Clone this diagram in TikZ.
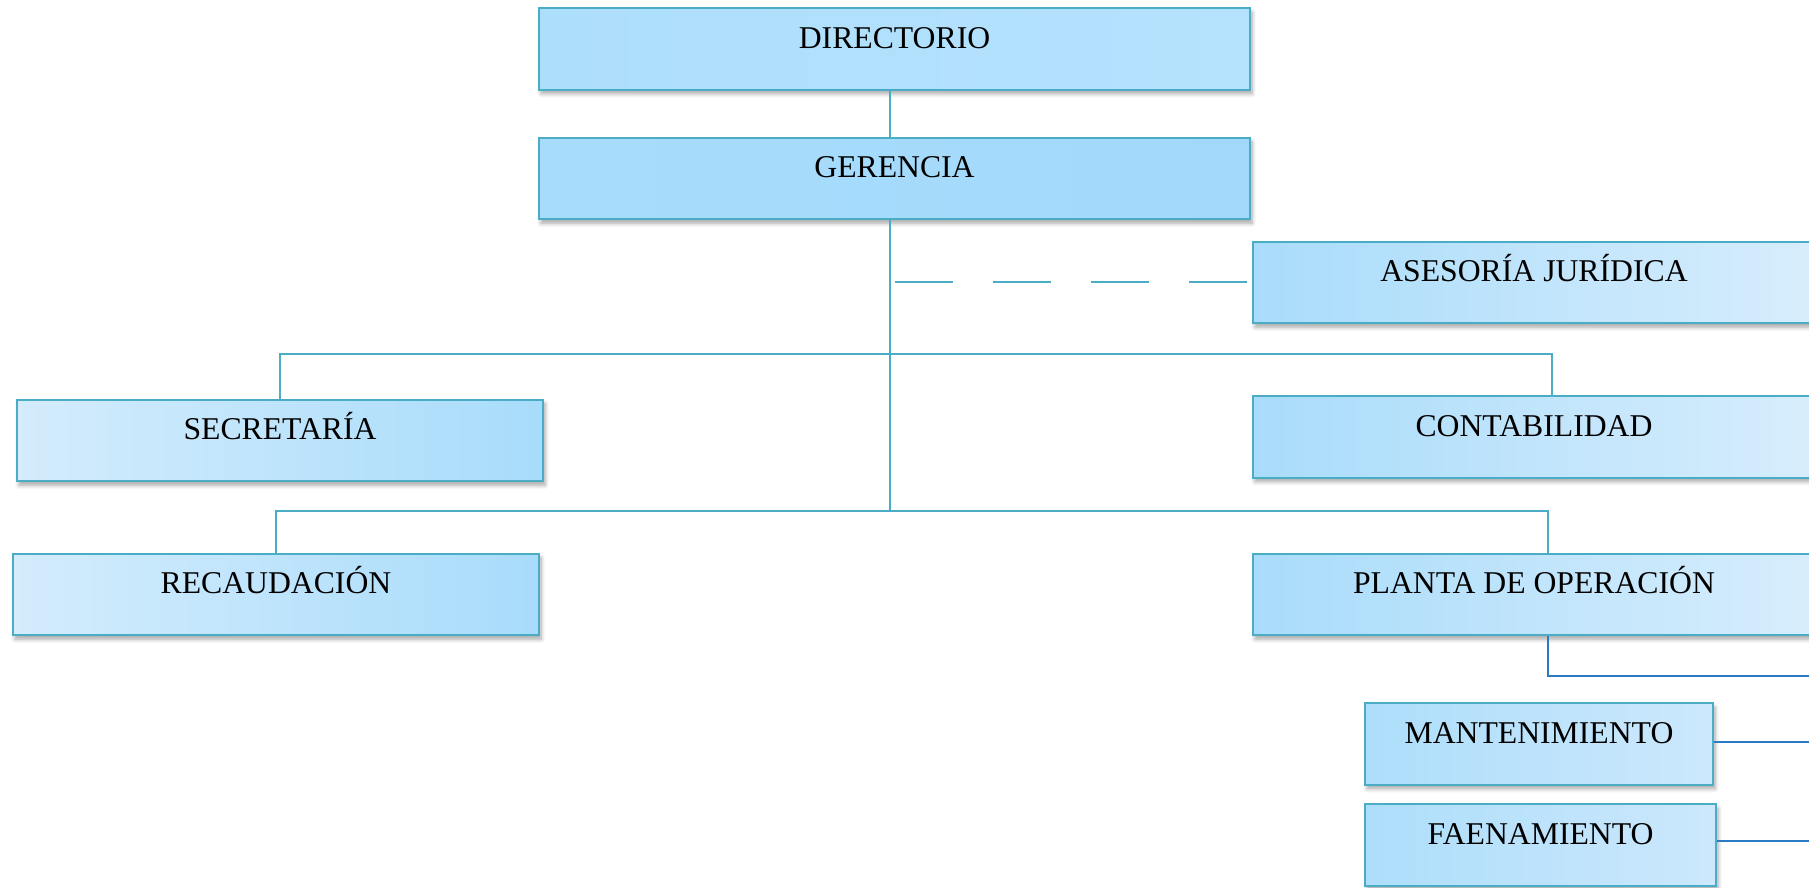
\documentclass[tikz,border=0pt]{standalone}
\usepackage{fontspec}
\setmainfont{Liberation Serif}
\usetikzlibrary{shadows,shadows.blur}
\definecolor{bordc}{HTML}{4BACC6}
\definecolor{connc}{HTML}{4BACC6}
\definecolor{connb}{HTML}{2A7BC4}
\definecolor{dirL}{HTML}{ADDEFC}
\definecolor{dirR}{HTML}{B5E2FD}
\definecolor{gerL}{HTML}{A8DCFC}
\definecolor{gerR}{HTML}{A2D9FB}
\definecolor{rDark}{HTML}{A9DCFB}
\definecolor{rLight}{HTML}{D7EDFC}
\definecolor{lLight}{HTML}{D4ECFC}
\definecolor{lDark}{HTML}{A8DCFB}
\definecolor{sDark}{HTML}{ADDEFB}
\definecolor{sLight}{HTML}{CCE8FC}
\tikzset{
  box/.style={draw=bordc, line width=2.2pt, rectangle, inner sep=0pt,
    text height=40pt, text depth=41.5pt,
    font=\fontsize{31.7}{38}\selectfont,
    blur shadow={shadow xshift=2pt, shadow yshift=-4pt, shadow blur steps=6, shadow blur radius=4pt, shadow opacity=35}},
  conn/.style={draw=connc, line width=2.2pt},
  connblue/.style={draw=connb, line width=2.2pt},
  dashconn/.style={draw=connc, line width=2.2pt, dash pattern=on 58pt off 40pt},
}
\begin{document}
\begin{tikzpicture}[x=1pt, y=-1pt]
\useasboundingbox (0,0) rectangle (1809,887);
\clip (0,0) rectangle (1809,887);
% boxes
\node[box, left color=dirL, right color=dirR, minimum width=711pt] (dir) at (894.5,49) {DIRECTORIO};
\node[box, minimum width=711pt, left color=gerL, right color=gerR] (ger) at (894.5,178.5) {GERENCIA};
\node[box, minimum width=562pt, left color=rDark, right color=rLight] (ase) at (1534,282.5) {ASESORÍA JURÍDICA};
\node[box, minimum width=526pt, left color=lLight, right color=lDark] (sec) at (280,440.5) {SECRETARÍA};
\node[box, minimum width=562pt, left color=rDark, right color=rLight] (con) at (1534,437) {CONTABILIDAD};
\node[box, minimum width=526pt, left color=lLight, right color=lDark] (rec) at (276,594.5) {RECAUDACIÓN};
\node[box, minimum width=562pt, left color=rDark, right color=rLight] (pla) at (1534,594.5) {PLANTA DE OPERACIÓN};
\node[box, minimum width=348pt, left color=sDark, right color=sLight] (man) at (1539,744) {MANTENIMIENTO};
\node[box, minimum width=351pt, left color=sDark, right color=sLight] (fae) at (1540.5,845) {FAENAMIENTO};
% junction coordinates
\coordinate (t1) at (890,354);
\coordinate (t2) at (890,511);
\coordinate (cR) at (1552,354);
\coordinate (pR) at (1548,511);
\coordinate (dA) at (895,282);
\coordinate (pE) at (1815,676);
% connectors
\draw[conn] (dir.south -| t1) -- (ger.north -| t1);
\draw[conn] (ger.south -| t1) -- (t2);
\draw[conn] (sec.north) |- (cR) -- (cR |- con.north);
\draw[conn] (rec.north) |- (pR) -- (pR |- pla.north);
\draw[dashconn] (dA) -- (ase.west |- dA);
\draw[connblue] (pla.south -| pR) |- (pE);
\draw[connblue] ([yshift=2pt]man.east) -- ([yshift=2pt]man.east -| pE);
\draw[connblue] ([yshift=4pt]fae.east) -- ([yshift=4pt]fae.east -| pE);
\end{tikzpicture}
\end{document}
